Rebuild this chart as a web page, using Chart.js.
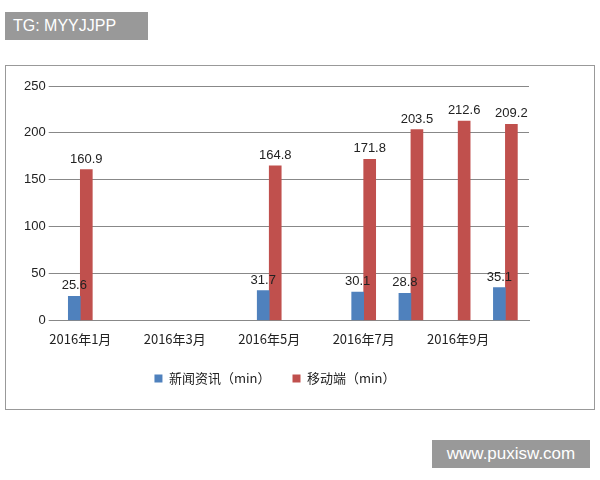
<!DOCTYPE html>
<html><head><meta charset="utf-8">
<script src="https://cdn.jsdelivr.net/npm/chart.js@4"></script>
<style>
body{margin:0;background:#fff;width:600px;height:480px;position:relative;font-family:"Noto Sans CJK SC",sans-serif}
#box{position:absolute;left:5px;top:65px;width:588px;height:343px;border:1px solid #999}
#wm1{position:absolute;left:5px;top:12px;width:143px;height:28px;background:#999;color:#fff;font:16px "Liberation Sans",sans-serif;line-height:28px;padding-left:8px;box-sizing:border-box}
#wm2{position:absolute;left:432px;top:440px;width:158px;height:28px;background:#999;color:#fff;font:17px "Liberation Sans",sans-serif;line-height:28px;text-align:center}
</style></head><body>
<div id="wm1">TG: MYYJJPP</div>
<div id="box"><canvas id="c" width="588" height="343"></canvas></div>
<div id="wm2">www.puxisw.com</div>
<script>
const categories=["2016年1月","2016年2月","2016年3月","2016年4月","2016年5月","2016年6月","2016年7月","2016年8月","2016年9月","2016年10月"];
const newsValues=[25.6,null,null,null,31.7,null,30.1,28.8,null,35.1];
const mobileValues=[160.9,null,null,null,164.8,null,171.8,203.5,212.6,209.2];
const yTicks=[0,50,100,150,200,250];
const labelPlugin={id:'lbl',afterDatasetsDraw(ch){const ctx=ch.ctx;ctx.save();ctx.font='13px "Liberation Sans",sans-serif';ctx.fillStyle='#222';ctx.textAlign='center';ctx.textBaseline='bottom';
ch.data.datasets.forEach((ds,i)=>{ch.getDatasetMeta(i).data.forEach((b,j)=>{const v=ds.data[j];if(v==null)return;ctx.fillText(v.toFixed(1),b.x,b.y-4);});});ctx.restore();}};
new Chart(document.getElementById('c'),{type:'bar',
data:{labels:categories,datasets:[
{label:'新闻资讯（min）',data:newsValues,backgroundColor:'#4f81bd',barThickness:12},
{label:'移动端（min）',data:mobileValues,backgroundColor:'#c0504d',barThickness:12}]},
options:{responsive:false,animation:false,layout:{padding:{left:15,right:65,top:20,bottom:14}},
plugins:{legend:{position:'bottom',labels:{boxWidth:8,boxHeight:8,color:'#222',font:{size:13,family:'"Noto Sans CJK SC"'},padding:22}},tooltip:{enabled:false}},
scales:{x:{grid:{display:false},border:{color:'#888'},ticks:{autoSkip:false,maxRotation:0,color:'#222',font:{size:13,family:'"Noto Sans CJK SC"'},callback:(v,i)=>i%2===0?categories[i]:''}},
y:{min:0,max:250,afterBuildTicks:a=>{a.ticks=yTicks.map(v=>({value:v}));},grid:{color:'#888'},border:{display:false},ticks:{color:'#222',font:{size:13,family:'"Liberation Sans"'}}}}},
plugins:[labelPlugin]});
</script></body></html>
